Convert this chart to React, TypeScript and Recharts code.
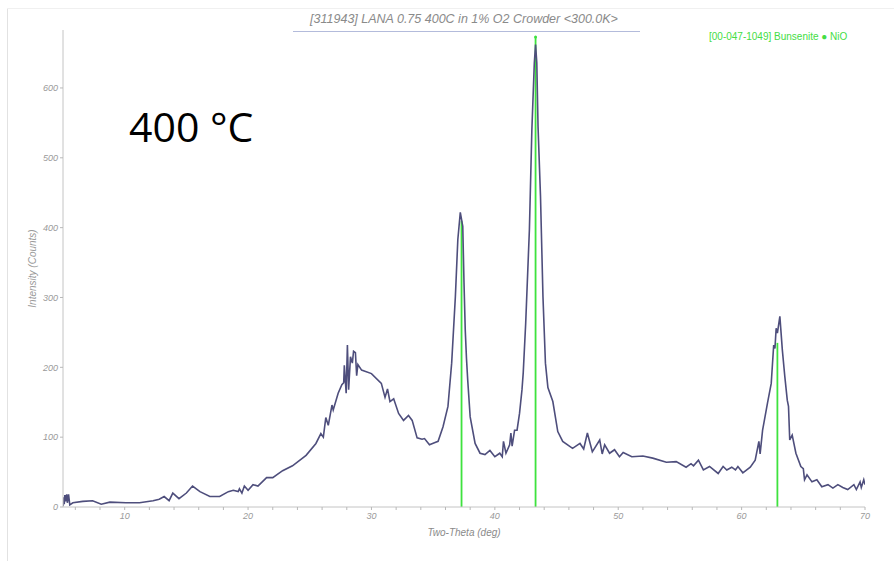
import {
  ComposedChart,
  Line,
  XAxis,
  YAxis,
  ReferenceLine,
  ReferenceDot,
} from 'recharts';

// XRD pattern
const twoTheta = [
  5.0, 5.05, 5.1, 5.15, 5.2, 5.3, 5.35, 5.45, 5.55, 5.8, 6.6, 7.4, 8.1, 8.8, 10.1, 11.2, 12.3, 12.8, 13.2, 13.6,
  13.9, 14.4, 15.0, 15.5, 16.1, 16.9, 17.7, 18.4, 18.8, 19.2, 19.3, 19.5, 19.7, 20.0, 20.4, 20.8, 21.5, 22.0, 22.8, 23.6,
  24.7, 25.5, 25.9, 26.1, 26.3, 26.5, 26.8, 26.9, 27.3, 27.6, 27.75, 27.8, 27.95, 28.05, 28.15, 28.3, 28.45, 28.55, 28.7, 28.8,
  28.9, 29.2, 30.0, 30.8, 31.1, 31.3, 31.5, 31.8, 32.2, 32.6, 33.0, 33.3, 33.7, 34.1, 34.3, 34.7, 35.1, 35.4, 35.8, 36.2,
  36.5, 36.8, 37.0, 37.2, 37.4, 37.5, 37.6, 37.7, 37.8, 38.0, 38.4, 38.8, 39.2, 39.6, 40.0, 40.4, 40.6, 40.7, 40.9, 41.2,
  41.3, 41.4, 41.6, 41.8, 42.0, 42.2, 42.3, 42.5, 42.8, 43.0, 43.2, 43.3, 43.4, 43.5, 43.7, 43.9, 44.1, 44.3, 44.7, 45.1,
  45.5, 46.3, 46.9, 47.2, 47.5, 47.9, 48.5, 48.7, 48.9, 49.3, 49.7, 50.1, 50.4, 51.1, 52.0, 52.8, 53.9, 54.7, 55.5, 55.9,
  56.1, 56.5, 56.9, 57.4, 58.1, 58.5, 58.8, 59.2, 59.5, 59.7, 60.1, 60.7, 61.1, 61.4, 61.5, 61.7, 62.1, 62.4, 62.6, 62.7,
  62.8, 62.9, 63.1, 63.3, 63.5, 63.7, 63.8, 63.9, 64.1, 64.4, 64.8, 65.0, 65.1, 65.3, 65.7, 66.1, 66.5, 67.0, 67.4, 67.8,
  68.2, 68.6, 69.1, 69.3, 69.6, 69.7, 69.9, 70.0,
];
const counts = [
  1, 14, 4, 17, 8, 18, 6, 18, 3, 6, 8, 9, 4, 7, 6, 6, 9, 11, 15, 9,
  20, 12, 20, 30, 22, 15, 15, 22, 24, 22, 26, 20, 30, 24, 32, 30, 42, 42, 52, 59,
  74, 91, 105, 100, 128, 117, 146, 139, 163, 175, 178, 203, 163, 232, 168, 215, 206, 223, 221, 188,
  204, 196, 191, 177, 157, 169, 151, 155, 134, 124, 131, 124, 99, 97, 98, 89, 92, 94, 115, 144,
  206, 301, 383, 422, 402, 321, 254, 213, 182, 129, 91, 77, 75, 81, 72, 77, 72, 94, 77, 89,
  106, 87, 110, 110, 134, 168, 192, 263, 397, 540, 636, 662, 636, 545, 445, 301, 206, 171, 151, 108,
  94, 84, 91, 83, 106, 79, 96, 76, 89, 77, 82, 72, 78, 72, 73, 70, 64, 65, 57, 62,
  59, 67, 53, 58, 48, 58, 53, 57, 53, 58, 49, 57, 67, 94, 76, 110, 149, 177, 232, 227,
  256, 249, 273, 225, 187, 153, 144, 96, 103, 77, 58, 55, 39, 46, 36, 39, 29, 32, 27, 32,
  28, 25, 32, 25, 36, 28, 39, 32,
];

// NiO reference sticks (Bunsenite 00-047-1049)
const stickPos = [37.3, 43.3, 62.9];
const stickHeight = [410, 673, 235];

const xTicks = [6, 8, 10, 12, 14, 16, 18, 20, 22, 24, 26, 28, 30, 32, 34, 36, 38, 40, 42, 44, 46, 48, 50, 52, 54, 56, 58, 60, 62, 64, 66, 68, 70];
const yTicks = [0, 100, 200, 300, 400, 500, 600];

const data = twoTheta.map((x, i) => ({ x, y: counts[i] }));

const GREEN = '#3ee23e';
const tickStyle = { fontSize: 9, fill: '#9a9a9a', fontStyle: 'italic', fontFamily: 'Liberation Sans, Arial, sans-serif' };

export default function App() {
  return (
    <div style={{ position: 'absolute', left: 0, top: 0, width: 894, height: 561, background: '#fff' }}>
      <div style={{ position: 'absolute', left: 7, top: 8, width: 1, height: 553, background: '#e2e2e2' }} />
      <div style={{ position: 'absolute', left: 7, top: 8, width: 887, height: 1, background: '#f0f0f0' }} />
      <ComposedChart
        width={894}
        height={561}
        data={data}
        margin={{ top: 30, right: 29, left: 23, bottom: 24 }}
      >
        <XAxis
          type="number"
          dataKey="x"
          domain={[5, 70]}
          ticks={xTicks}
          tickFormatter={(v) => (v % 10 === 0 ? `${v}` : '')}
          tick={tickStyle}
          tickSize={3}
          tickMargin={3}
          height={30}
          axisLine={{ stroke: '#c4c4c4' }}
          tickLine={{ stroke: '#b8b8b8' }}
          allowDataOverflow
          label={{
            value: 'Two-Theta (deg)',
            position: 'insideBottom',
            offset: 1,
            style: { fontSize: 10, fill: '#8a8a8a', fontStyle: 'italic', fontFamily: 'Liberation Sans, Arial, sans-serif' },
          }}
        />
        <YAxis
          type="number"
          domain={[0, 683]}
          ticks={yTicks}
          tick={tickStyle}
          tickSize={3}
          tickMargin={2}
          width={40}
          axisLine={{ stroke: '#c4c4c4' }}
          tickLine={{ stroke: '#b8b8b8' }}
          allowDataOverflow
          label={{
            value: 'Intensity (Counts)',
            angle: -90,
            position: 'insideLeft',
            offset: 9,
            style: { textAnchor: 'middle', fontSize: 10, fill: '#9a9a9a', fontStyle: 'italic', fontFamily: 'Liberation Sans, Arial, sans-serif' },
          }}
        />
        {stickPos.map((p, i) => (
          <ReferenceLine
            key={p}
            segment={[{ x: p, y: 0 }, { x: p, y: stickHeight[i] }]}
            stroke={GREEN}
            strokeWidth={1.8}
          />
        ))}
        <Line
          type="linear"
          dataKey="y"
          stroke="#4e4e7c"
          strokeWidth={1.6}
          dot={false}
          isAnimationActive={false}
        />
        <ReferenceDot x={43.3} y={673} r={1.5} fill={GREEN} stroke="none" />
      </ComposedChart>
      <div
        style={{
          position: 'absolute',
          left: 264,
          width: 400,
          top: 12,
          textAlign: 'center',
          fontFamily: 'Liberation Sans, Arial, sans-serif',
          fontStyle: 'italic',
          fontSize: 12.5,
          color: '#8a8a8a',
          whiteSpace: 'nowrap',
        }}
      >
        [311943] LANA 0.75 400C in 1% O2 Crowder &lt;300.0K&gt;
      </div>
      <div style={{ position: 'absolute', left: 293, top: 31, width: 347, height: 1, background: '#b3bbdb' }} />
      <div
        style={{
          position: 'absolute',
          left: 709,
          top: 31,
          fontFamily: 'Liberation Sans, Arial, sans-serif',
          fontSize: 10,
          color: '#44dd44',
          whiteSpace: 'nowrap',
        }}
      >
        [00-047-1049] Bunsenite ● NiO
      </div>
      <div
        style={{
          position: 'absolute',
          left: 129,
          top: 98,
          fontFamily: 'Open Sans, sans-serif',
          fontSize: 41,
          lineHeight: '56px',
          color: '#000',
          whiteSpace: 'nowrap',
        }}
      >
        400 °C
      </div>
    </div>
  );
}
